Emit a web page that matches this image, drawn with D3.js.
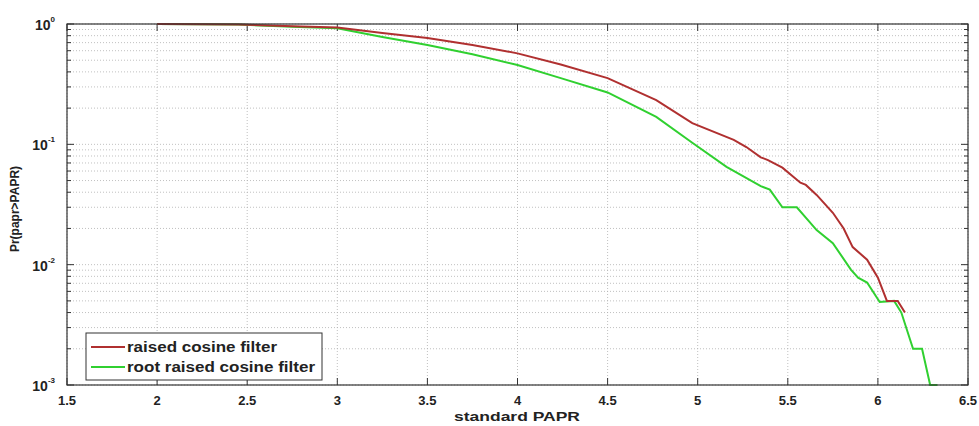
<!DOCTYPE html>
<html><head><meta charset="utf-8">
<script src="https://cdn.jsdelivr.net/npm/d3@7"></script>
<style>
body{margin:0;background:#fff;}
text{font-family:"Liberation Sans",Arial,sans-serif;}
</style></head>
<body><svg id="c" width="979" height="426"></svg>
<script>
const xTicks = [1.5,2,2.5,3,3.5,4,4.5,5,5.5,6,6.5];
const xTickLabels = ["1.5","2","2.5","3","3.5","4","4.5","5","5.5","6","6.5"];
const yDecades = [0,-1,-2,-3];
const seriesNames = ["raised cosine filter","root raised cosine filter"];
const seriesColors = ["#b03030","#30d030"];

const rcX = [2.0,2.45,2.75,3.0,3.25,3.5,3.75,4.0,4.24,4.5,4.77,4.97,5.2,5.27,5.35,5.39,5.47,5.57,5.6,5.66,5.75,5.81,5.86,5.94,6.0,6.05,6.11,6.15];
const rcY = [1.0,0.99,0.96,0.935,0.84,0.765,0.67,0.57,0.46,0.355,0.233,0.150,0.109,0.095,0.078,0.074,0.064,0.048,0.046,0.038,0.027,0.020,0.014,0.011,0.0078,0.005,0.005,0.004];

const rrcX = [2.0,2.45,2.75,3.0,3.25,3.5,3.75,4.0,4.24,4.5,4.77,4.97,5.16,5.35,5.40,5.47,5.55,5.66,5.75,5.85,5.89,5.94,6.01,6.09,6.13,6.195,6.245,6.29,6.33];
const rrcY = [1.0,0.99,0.95,0.92,0.78,0.67,0.56,0.456,0.355,0.27,0.169,0.103,0.065,0.045,0.042,0.030,0.030,0.0194,0.0151,0.0091,0.0078,0.0071,0.0049,0.005,0.004,0.002,0.002,0.001,0.001];

const svg = d3.select("#c");
const L=67,R=968,T=24,B=385;
const x = d3.scaleLinear().domain([1.5,6.5]).range([L,R]);
const y = d3.scaleLog().domain([1e-3,1]).range([B,T]);

// grid
const g = svg.append("g");
const minorY = [];
for (let d=-3; d<0; d++) for (let m=1; m<10; m++) minorY.push(m*Math.pow(10,d));
minorY.push(1);
g.selectAll("line.hg").data(minorY).enter().append("line")
  .attr("x1",L).attr("x2",R).attr("y1",d=>y(d)).attr("y2",d=>y(d))
  .attr("stroke","#b0b0b0").attr("stroke-width",0.8).attr("stroke-dasharray","1,2");
g.selectAll("line.vg").data(xTicks).enter().append("line")
  .attr("y1",T).attr("y2",B).attr("x1",d=>x(d)).attr("x2",d=>x(d))
  .attr("stroke","#b0b0b0").attr("stroke-width",0.8).attr("stroke-dasharray","1,2");

// ticks inside
const tk = svg.append("g").attr("stroke","#333").attr("stroke-width",1);
xTicks.forEach(v=>{
  tk.append("line").attr("x1",x(v)).attr("x2",x(v)).attr("y1",B).attr("y2",B-7);
  tk.append("line").attr("x1",x(v)).attr("x2",x(v)).attr("y1",T).attr("y2",T+7);
});
minorY.forEach(v=>{
  const major = Math.abs(Math.log10(v)-Math.round(Math.log10(v)))<1e-9;
  const len = major?7:4;
  tk.append("line").attr("x1",L).attr("x2",L+len).attr("y1",y(v)).attr("y2",y(v));
  tk.append("line").attr("x1",R).attr("x2",R-len).attr("y1",y(v)).attr("y2",y(v));
});

// curves
const line = d3.line().x(d=>x(d[0])).y(d=>y(d[1]));
const rc = rcX.map((v,i)=>[v,rcY[i]]);
const rrc = rrcX.map((v,i)=>[v,rrcY[i]]);
svg.append("path").datum(rrc).attr("d",line).attr("fill","none")
  .attr("stroke",seriesColors[1]).attr("stroke-width",2);
svg.append("path").datum(rc).attr("d",line).attr("fill","none")
  .attr("stroke",seriesColors[0]).attr("stroke-width",2);

// frame
svg.append("rect").attr("x",L).attr("y",T).attr("width",R-L).attr("height",B-T)
  .attr("fill","none").attr("stroke","#333").attr("stroke-width",1.2);

// x tick labels
svg.selectAll("text.xt").data(xTicks).enter().append("text")
  .attr("x",d=>x(d)).attr("y",405).attr("text-anchor","middle")
  .attr("font-size",13).attr("font-weight","bold").attr("fill","#222")
  .text((d,i)=>xTickLabels[i]);

// y tick labels
yDecades.forEach(dd=>{
  const t = svg.append("text").attr("x",L-12).attr("y",y(Math.pow(10,dd))+6)
    .attr("text-anchor","end").attr("font-size",14).attr("font-weight","bold").attr("fill","#222");
  t.append("tspan").text("10");
  t.append("tspan").attr("dy",-8).attr("font-size",8).text(dd);
});

// axis labels
svg.append("text").attr("x",517).attr("y",421).attr("text-anchor","middle")
  .attr("font-size",13).attr("font-weight","bold").attr("fill","#222")
  .attr("textLength",126).attr("lengthAdjust","spacingAndGlyphs").text("standard PAPR");
svg.append("text").attr("transform","translate(19,209) rotate(-90)")
  .attr("text-anchor","middle").attr("font-size",12).attr("font-weight","bold").attr("fill","#222")
  .text("Pr(papr>PAPR)");

// legend
const lg = svg.append("g");
lg.append("rect").attr("x",86).attr("y",333).attr("width",236).attr("height",47)
  .attr("fill","#fff").attr("stroke","#333").attr("stroke-width",1);
const legW = [150,188];
seriesNames.forEach((n,i)=>{
  const yy = 347 + i*20;
  lg.append("line").attr("x1",91).attr("x2",125).attr("y1",yy).attr("y2",yy)
    .attr("stroke",seriesColors[i]).attr("stroke-width",2);
  lg.append("text").attr("x",127).attr("y",yy+5).attr("font-size",14).attr("font-weight","bold")
    .attr("fill","#222").attr("textLength",legW[i]).attr("lengthAdjust","spacingAndGlyphs").text(n);
});
</script></body></html>
